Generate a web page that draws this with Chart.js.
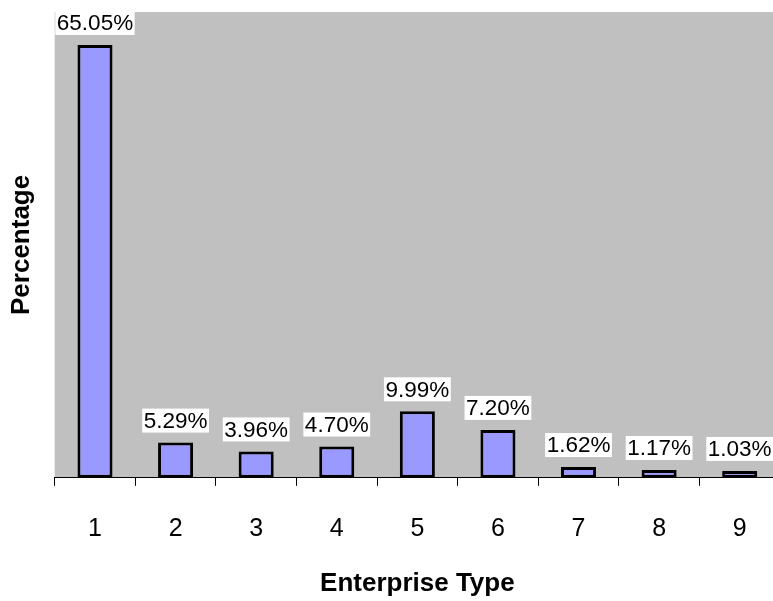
<!DOCTYPE html>
<html>
<head>
<meta charset="utf-8">
<script src="https://cdn.jsdelivr.net/npm/chart.js@4"></script>
<style>
  html, body { margin: 0; padding: 0; background: #fff; overflow: hidden; }
  #wrap { width: 780px; height: 601px; position: relative; }
</style>
</head>
<body>
<div id="wrap"><canvas id="myChart"></canvas></div>
<script>
const enterpriseTypes = ['1', '2', '3', '4', '5', '6', '7', '8', '9'];
const percentages = [65.05, 5.29, 3.96, 4.70, 9.99, 7.20, 1.62, 1.17, 1.03];

const FONT = '"Liberation Sans", Arial, sans-serif';

// gray plot area behind the bars
const plotBackground = {
    id: 'plotBackground',
    beforeDraw(chart) {
        const { ctx, chartArea } = chart;
        ctx.save();
        ctx.fillStyle = '#C0C0C0';
        ctx.fillRect(chartArea.left, chartArea.top, chartArea.right - chartArea.left, chartArea.bottom - chartArea.top);
        ctx.restore();
    }
};

// value labels with white boxes above each bar
const valueLabels = {
    id: 'valueLabels',
    afterDatasetsDraw(chart) {
        const { ctx } = chart;
        const meta = chart.getDatasetMeta(0);
        ctx.save();
        ctx.font = '22.5px ' + FONT;
        ctx.textAlign = 'center';
        ctx.textBaseline = 'middle';
        meta.data.forEach((bar, i) => {
            const text = percentages[i].toFixed(2) + '%';
            const w = ctx.measureText(text).width + 3;
            const h = 24;
            const cy = bar.y - 10 - h / 2;
            ctx.fillStyle = '#fff';
            ctx.fillRect(bar.x - w / 2, cy - h / 2, w, h);
            ctx.fillStyle = '#000';
            ctx.fillText(text, bar.x, cy + 1);
        });
        ctx.restore();
    }
};

new Chart(document.getElementById('myChart').getContext('2d'), {
    type: 'bar',
    data: {
        labels: enterpriseTypes,
        datasets: [{
            data: percentages,
            backgroundColor: '#9999FF',
            borderColor: '#000',
            borderWidth: 3,
            borderSkipped: false,
            barPercentage: 0.435,
            categoryPercentage: 1
        }]
    },
    options: {
        responsive: true,
        maintainAspectRatio: false,
        animation: false,
        layout: { padding: { top: 12, right: 0, bottom: 0, left: 6 } },
        plugins: {
            legend: { display: false },
            tooltip: { enabled: false }
        },
        scales: {
            x: {
                grid: { display: true, drawOnChartArea: false, tickLength: 8, color: '#000', lineWidth: 1, offset: true },
                border: { display: true, color: '#000', width: 1 },
                ticks: { color: '#000', font: { size: 25, family: FONT }, padding: 28 },
                title: { display: true, text: 'Enterprise Type', color: '#000', font: { size: 26, weight: 'bold', family: FONT }, padding: { top: -4, bottom: 2 } }
            },
            y: {
                min: 0,
                max: 70,
                grid: { display: false },
                border: { display: false },
                ticks: { display: false },
                title: { display: true, text: 'Percentage', color: '#000', font: { size: 26, weight: 'bold', family: FONT }, padding: { top: 0, bottom: 9.5 } }
            }
        }
    },
    plugins: [plotBackground, valueLabels]
});
</script>
</body>
</html>
